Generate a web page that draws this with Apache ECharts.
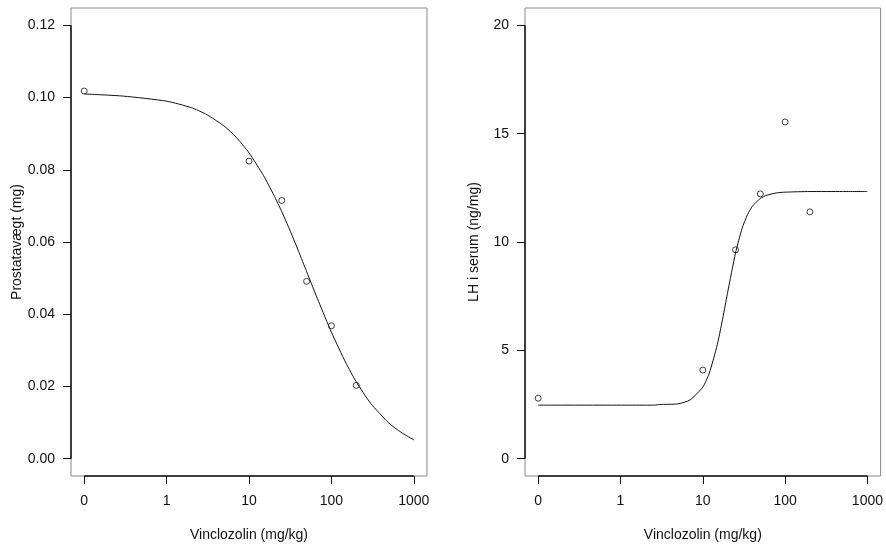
<!DOCTYPE html>
<html>
<head>
<meta charset="utf-8">
<script src="https://cdn.jsdelivr.net/npm/echarts@6/dist/echarts.min.js"></script>
<style>
  html, body { margin: 0; padding: 0; background: #ffffff; }
  #chart { width: 886px; height: 547px; }
</style>
</head>
<body>
<div id="chart"></div>
<script>
// Vinclozolin dose groups (mg/kg); the control group (0) sits at the 0.1 position of the log axis
const doses = [0, 10, 25, 50, 100, 200];
const prostateWeight = [0.1018, 0.0824, 0.0715, 0.0491, 0.0368, 0.0203];
const lhSerum = [2.79, 4.09, 9.64, 12.22, 15.54, 11.39];

// Fitted dose-response curves, sampled along the dose axis
const prostateCurveDoses = [0, 0.3, 1, 2, 3, 5, 7, 10, 15, 20, 25, 30, 40, 50, 70, 100, 150, 200, 300, 500, 700, 1000];
const prostateCurveValues = [0.1010, 0.1004, 0.0990, 0.0972, 0.0954, 0.0921, 0.0890, 0.0847, 0.0784, 0.0730, 0.0684,
  0.0643, 0.0574, 0.0518, 0.0435, 0.0350, 0.0265, 0.0213, 0.0153, 0.0098, 0.0073, 0.0052];
const lhCurveDoses = [0, 0.3, 1, 2, 2.6, 3, 5, 7, 10, 12, 15, 18, 20, 25, 30, 35, 40, 50, 60, 80, 100, 200, 500, 1000];
const lhCurveValues = [2.47, 2.47, 2.47, 2.47, 2.47, 2.50, 2.53, 2.71, 3.30, 3.95, 5.26, 6.73, 7.66, 9.50, 10.63,
  11.27, 11.65, 12.01, 12.16, 12.27, 12.30, 12.33, 12.33, 12.33];

// Tick labels
const xTickDoses = [0, 1, 10, 100, 1000];
const prostateTicks = [0, 0.02, 0.04, 0.06, 0.08, 0.10, 0.12];
const lhTicks = [0, 5, 10, 15, 20];

const xTitle = 'Vinclozolin (mg/kg)';
const prostateTitle = 'Prostatavægt (mg)';
const lhTitle = 'LH i serum (ng/mg)';

// dose -> position on a log10 value axis (0 drawn at the 0.1 spot)
const pos = d => (d <= 0 ? -1 : Math.log10(d));
const pair = (xs, ys) => xs.map((d, i) => [pos(d), ys[i]]);

const xTickPos = xTickDoses.map(pos);
const xPad = 0.04 * (xTickPos[xTickPos.length - 1] - xTickPos[0]);
const xMin = xTickPos[0] - xPad;
const xMax = xTickPos[xTickPos.length - 1] + xPad;

function yRange(ticks) {
  const lo = ticks[0], hi = ticks[ticks.length - 1];
  const pad = 0.04 * (hi - lo);
  return [lo - pad, hi + pad];
}
const [pMin, pMax] = yRange(prostateTicks);
const [lMin, lMax] = yRange(lhTicks);

const FONT = 'Liberation Sans, Arial, Helvetica, sans-serif';
const INK = '#111111';

function xAxisFor(gridIndex) {
  return {
    type: 'value', gridIndex, min: xMin, max: xMax, position: 'bottom',
    axisLine: { show: false, onZero: false },
    splitLine: { show: false },
    axisTick: { show: true, length: 8, customValues: xTickPos, lineStyle: { color: INK, width: 1 } },
    axisLabel: {
      show: true, customValues: xTickPos, margin: 18, color: INK, fontSize: 14, fontFamily: FONT,
      formatter: v => {
        const i = xTickPos.findIndex(p => Math.abs(p - v) < 1e-9);
        return i >= 0 ? String(xTickDoses[i]) : '';
      }
    },
    name: xTitle, nameLocation: 'middle', nameGap: 52,
    nameTextStyle: { color: INK, fontSize: 14, fontFamily: FONT }
  };
}

function yAxisFor(gridIndex, lo, hi, ticks, digits, title) {
  return {
    type: 'value', gridIndex, min: lo, max: hi, position: 'left',
    axisLine: { show: false, onZero: false },
    splitLine: { show: false },
    axisTick: { show: true, length: 8, customValues: ticks, lineStyle: { color: INK, width: 1 } },
    axisLabel: {
      show: true, customValues: ticks, margin: 16, color: INK, fontSize: 14, fontFamily: FONT,
      formatter: v => v.toFixed(digits)
    },
    name: title, nameLocation: 'middle', nameGap: 44, nameRotate: 90,
    nameTextStyle: { color: INK, fontSize: 14, fontFamily: FONT }
  };
}

// black axis segments running from the first to the last tick, as in base-graphics plots
function axisSegments(ticks, yLo) {
  return {
    silent: true, symbol: ['none', 'none'], animation: false,
    label: { show: false },
    lineStyle: { color: INK, width: 1.5, type: 'solid' },
    emphasis: { disabled: true },
    data: [
      [{ coord: [xTickPos[0], yLo] }, { coord: [xTickPos[xTickPos.length - 1], yLo] }],
      [{ coord: [xMin, ticks[0]] }, { coord: [xMin, ticks[ticks.length - 1]] }]
    ]
  };
}

const gridBox = { show: true, borderColor: '#8a8a8a', borderWidth: 1, backgroundColor: 'transparent' };

const option = {
  backgroundColor: '#ffffff',
  animation: false,
  grid: [
    Object.assign({ left: 71, top: 8, width: 356, height: 469 }, gridBox),
    Object.assign({ left: 525, top: 8, width: 356, height: 469 }, gridBox)
  ],
  xAxis: [xAxisFor(0), xAxisFor(1)],
  yAxis: [
    yAxisFor(0, pMin, pMax, prostateTicks, 2, prostateTitle),
    yAxisFor(1, lMin, lMax, lhTicks, 0, lhTitle)
  ],
  series: [
    {
      type: 'line', xAxisIndex: 0, yAxisIndex: 0, clip: false,
      data: pair(prostateCurveDoses, prostateCurveValues),
      showSymbol: false, smooth: 0.2,
      lineStyle: { color: INK, width: 1 },
      markLine: axisSegments(prostateTicks, pMin)
    },
    {
      type: 'scatter', xAxisIndex: 0, yAxisIndex: 0,
      data: pair(doses, prostateWeight),
      symbol: 'circle', symbolSize: 6,
      itemStyle: { color: '#ffffff', borderColor: INK, borderWidth: 1 }
    },
    {
      type: 'line', xAxisIndex: 1, yAxisIndex: 1, clip: false,
      data: pair(lhCurveDoses, lhCurveValues),
      showSymbol: false, smooth: 0.2,
      lineStyle: { color: INK, width: 1 },
      markLine: axisSegments(lhTicks, lMin)
    },
    {
      type: 'scatter', xAxisIndex: 1, yAxisIndex: 1,
      data: pair(doses, lhSerum),
      symbol: 'circle', symbolSize: 6,
      itemStyle: { color: '#ffffff', borderColor: INK, borderWidth: 1 }
    }
  ]
};

const chart = echarts.init(document.getElementById('chart'), null, { renderer: 'canvas' });
chart.setOption(option);
</script>
</body>
</html>
